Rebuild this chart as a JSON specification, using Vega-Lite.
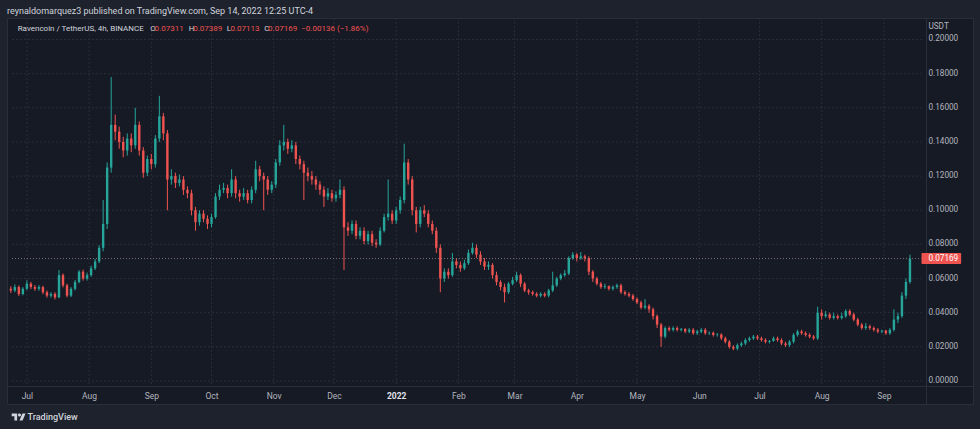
{
"$schema": "https://vega.github.io/schema/vega-lite/v6.json",
"autosize": {"type": "none"},
"width": 966, "height": 386,
"padding": {"left": 7, "top": 18, "right": 7, "bottom": 25},
"background": "#1e222d",
"config": {"view": {"fill": "#161a25", "stroke": "#2a2e39", "strokeWidth": 1}, "font": "Roboto", "axis": {"labelOverlap": false}},
"title": {"text": "reynaldomarquez3 published on TradingView.com, Sep 14, 2022 12:25 UTC-4", "anchor": "start", "frame": "group", "font": "Roboto", "fontSize": 9, "fontWeight": "normal", "color": "#d1d4dc", "offset": 3, "dy": 6, "baseline": "middle"},
"datasets": {
"months": [{"m":"2021-07-01T00:00"},{"m":"2021-08-01T00:00"},{"m":"2021-09-01T00:00"},{"m":"2021-10-01T00:00"},{"m":"2021-11-01T00:00"},{"m":"2021-12-01T00:00"},{"m":"2022-01-01T00:00"},{"m":"2022-02-01T00:00"},{"m":"2022-03-01T00:00"},{"m":"2022-04-01T00:00"},{"m":"2022-05-01T00:00"},{"m":"2022-06-01T00:00"},{"m":"2022-07-01T00:00"},{"m":"2022-08-01T00:00"},{"m":"2022-09-01T00:00"}],
"levels": [{"v":0},{"v":0.02},{"v":0.04},{"v":0.06},{"v":0.08},{"v":0.1},{"v":0.12},{"v":0.14},{"v":0.16},{"v":0.18},{"v":0.2}],
"candles": [
{"d":"2021-06-23T00:00","o":0.054,"h":0.0555,"l":0.0515,"c":0.053},
{"d":"2021-06-25T00:00","o":0.053,"h":0.0565,"l":0.052,"c":0.055},
{"d":"2021-06-27T00:00","o":0.055,"h":0.056,"l":0.0498,"c":0.051},
{"d":"2021-06-29T00:00","o":0.051,"h":0.055,"l":0.0502,"c":0.054},
{"d":"2021-07-01T00:00","o":0.054,"h":0.059,"l":0.0532,"c":0.057},
{"d":"2021-07-03T00:00","o":0.057,"h":0.058,"l":0.0538,"c":0.055},
{"d":"2021-07-05T00:00","o":0.055,"h":0.0562,"l":0.0528,"c":0.054},
{"d":"2021-07-07T00:00","o":0.054,"h":0.0562,"l":0.0528,"c":0.055},
{"d":"2021-07-09T00:00","o":0.055,"h":0.0558,"l":0.0508,"c":0.052},
{"d":"2021-07-11T00:00","o":0.052,"h":0.053,"l":0.0488,"c":0.05},
{"d":"2021-07-13T00:00","o":0.05,"h":0.052,"l":0.0488,"c":0.051},
{"d":"2021-07-15T00:00","o":0.051,"h":0.052,"l":0.0478,"c":0.049},
{"d":"2021-07-17T00:00","o":0.049,"h":0.065,"l":0.0485,"c":0.062},
{"d":"2021-07-19T00:00","o":0.062,"h":0.063,"l":0.0548,"c":0.056},
{"d":"2021-07-21T00:00","o":0.056,"h":0.057,"l":0.049,"c":0.05},
{"d":"2021-07-23T00:00","o":0.05,"h":0.055,"l":0.0492,"c":0.054},
{"d":"2021-07-25T00:00","o":0.054,"h":0.0592,"l":0.053,"c":0.058},
{"d":"2021-07-27T00:00","o":0.058,"h":0.065,"l":0.0572,"c":0.064},
{"d":"2021-07-29T00:00","o":0.064,"h":0.0652,"l":0.0588,"c":0.06},
{"d":"2021-07-31T00:00","o":0.06,"h":0.0635,"l":0.0588,"c":0.062},
{"d":"2021-08-02T00:00","o":0.062,"h":0.0675,"l":0.061,"c":0.066},
{"d":"2021-08-04T00:00","o":0.066,"h":0.0715,"l":0.065,"c":0.07},
{"d":"2021-08-06T00:00","o":0.07,"h":0.0795,"l":0.069,"c":0.078},
{"d":"2021-08-08T00:00","o":0.078,"h":0.106,"l":0.076,"c":0.092},
{"d":"2021-08-10T00:00","o":0.092,"h":0.128,"l":0.089,"c":0.125},
{"d":"2021-08-12T00:00","o":0.125,"h":0.178,"l":0.122,"c":0.15},
{"d":"2021-08-14T00:00","o":0.15,"h":0.156,"l":0.141,"c":0.146},
{"d":"2021-08-16T00:00","o":0.146,"h":0.149,"l":0.136,"c":0.14},
{"d":"2021-08-18T00:00","o":0.14,"h":0.143,"l":0.131,"c":0.135},
{"d":"2021-08-20T00:00","o":0.135,"h":0.145,"l":0.132,"c":0.142},
{"d":"2021-08-22T00:00","o":0.142,"h":0.145,"l":0.134,"c":0.138},
{"d":"2021-08-24T00:00","o":0.138,"h":0.16,"l":0.136,"c":0.15},
{"d":"2021-08-26T00:00","o":0.15,"h":0.152,"l":0.132,"c":0.135},
{"d":"2021-08-28T00:00","o":0.135,"h":0.137,"l":0.119,"c":0.122},
{"d":"2021-08-30T00:00","o":0.122,"h":0.132,"l":0.12,"c":0.13},
{"d":"2021-09-01T00:00","o":0.13,"h":0.133,"l":0.124,"c":0.127},
{"d":"2021-09-03T00:00","o":0.127,"h":0.144,"l":0.125,"c":0.142},
{"d":"2021-09-05T00:00","o":0.142,"h":0.167,"l":0.14,"c":0.155},
{"d":"2021-09-07T00:00","o":0.155,"h":0.157,"l":0.141,"c":0.145},
{"d":"2021-09-09T00:00","o":0.145,"h":0.147,"l":0.1,"c":0.118},
{"d":"2021-09-11T00:00","o":0.118,"h":0.124,"l":0.115,"c":0.12},
{"d":"2021-09-13T00:00","o":0.12,"h":0.122,"l":0.113,"c":0.116},
{"d":"2021-09-15T00:00","o":0.116,"h":0.121,"l":0.114,"c":0.118},
{"d":"2021-09-17T00:00","o":0.118,"h":0.12,"l":0.109,"c":0.112},
{"d":"2021-09-19T00:00","o":0.112,"h":0.114,"l":0.107,"c":0.11},
{"d":"2021-09-21T00:00","o":0.11,"h":0.112,"l":0.097,"c":0.1},
{"d":"2021-09-23T00:00","o":0.1,"h":0.102,"l":0.088,"c":0.093},
{"d":"2021-09-25T00:00","o":0.093,"h":0.1,"l":0.091,"c":0.098},
{"d":"2021-09-27T00:00","o":0.098,"h":0.1,"l":0.093,"c":0.095},
{"d":"2021-09-29T00:00","o":0.095,"h":0.097,"l":0.089,"c":0.092},
{"d":"2021-10-01T00:00","o":0.092,"h":0.098,"l":0.09,"c":0.096},
{"d":"2021-10-03T00:00","o":0.096,"h":0.11,"l":0.095,"c":0.108},
{"d":"2021-10-05T00:00","o":0.108,"h":0.115,"l":0.106,"c":0.112},
{"d":"2021-10-07T00:00","o":0.112,"h":0.116,"l":0.11,"c":0.113},
{"d":"2021-10-09T00:00","o":0.113,"h":0.115,"l":0.107,"c":0.11},
{"d":"2021-10-11T00:00","o":0.11,"h":0.124,"l":0.108,"c":0.118},
{"d":"2021-10-13T00:00","o":0.118,"h":0.12,"l":0.107,"c":0.11},
{"d":"2021-10-15T00:00","o":0.11,"h":0.112,"l":0.105,"c":0.108},
{"d":"2021-10-17T00:00","o":0.108,"h":0.113,"l":0.106,"c":0.11},
{"d":"2021-10-19T00:00","o":0.11,"h":0.112,"l":0.104,"c":0.106},
{"d":"2021-10-21T00:00","o":0.106,"h":0.114,"l":0.104,"c":0.112},
{"d":"2021-10-23T00:00","o":0.112,"h":0.129,"l":0.11,"c":0.124},
{"d":"2021-10-25T00:00","o":0.124,"h":0.126,"l":0.117,"c":0.12},
{"d":"2021-10-27T00:00","o":0.12,"h":0.122,"l":0.1,"c":0.118},
{"d":"2021-10-29T00:00","o":0.118,"h":0.12,"l":0.109,"c":0.112},
{"d":"2021-10-31T00:00","o":0.112,"h":0.117,"l":0.11,"c":0.115},
{"d":"2021-11-02T00:00","o":0.115,"h":0.13,"l":0.113,"c":0.128},
{"d":"2021-11-04T00:00","o":0.128,"h":0.141,"l":0.126,"c":0.138},
{"d":"2021-11-06T00:00","o":0.138,"h":0.15,"l":0.135,"c":0.14},
{"d":"2021-11-08T00:00","o":0.14,"h":0.142,"l":0.133,"c":0.136},
{"d":"2021-11-10T00:00","o":0.136,"h":0.141,"l":0.134,"c":0.138},
{"d":"2021-11-12T00:00","o":0.138,"h":0.14,"l":0.127,"c":0.13},
{"d":"2021-11-14T00:00","o":0.13,"h":0.132,"l":0.124,"c":0.127},
{"d":"2021-11-16T00:00","o":0.127,"h":0.129,"l":0.106,"c":0.122},
{"d":"2021-11-18T00:00","o":0.122,"h":0.125,"l":0.117,"c":0.12},
{"d":"2021-11-20T00:00","o":0.12,"h":0.123,"l":0.115,"c":0.118},
{"d":"2021-11-22T00:00","o":0.118,"h":0.12,"l":0.112,"c":0.115},
{"d":"2021-11-24T00:00","o":0.115,"h":0.117,"l":0.109,"c":0.112},
{"d":"2021-11-26T00:00","o":0.112,"h":0.114,"l":0.102,"c":0.108},
{"d":"2021-11-28T00:00","o":0.108,"h":0.113,"l":0.106,"c":0.11},
{"d":"2021-11-30T00:00","o":0.11,"h":0.112,"l":0.105,"c":0.107},
{"d":"2021-12-02T00:00","o":0.107,"h":0.111,"l":0.105,"c":0.109},
{"d":"2021-12-04T00:00","o":0.109,"h":0.118,"l":0.107,"c":0.112},
{"d":"2021-12-06T00:00","o":0.112,"h":0.114,"l":0.065,"c":0.09},
{"d":"2021-12-08T00:00","o":0.09,"h":0.093,"l":0.085,"c":0.088},
{"d":"2021-12-10T00:00","o":0.088,"h":0.094,"l":0.086,"c":0.092},
{"d":"2021-12-12T00:00","o":0.092,"h":0.094,"l":0.083,"c":0.085},
{"d":"2021-12-14T00:00","o":0.085,"h":0.09,"l":0.083,"c":0.088},
{"d":"2021-12-16T00:00","o":0.088,"h":0.09,"l":0.08,"c":0.082},
{"d":"2021-12-18T00:00","o":0.082,"h":0.088,"l":0.08,"c":0.086},
{"d":"2021-12-20T00:00","o":0.086,"h":0.088,"l":0.079,"c":0.081},
{"d":"2021-12-22T00:00","o":0.081,"h":0.083,"l":0.078,"c":0.08},
{"d":"2021-12-24T00:00","o":0.08,"h":0.09,"l":0.079,"c":0.088},
{"d":"2021-12-26T00:00","o":0.088,"h":0.098,"l":0.087,"c":0.096},
{"d":"2021-12-28T00:00","o":0.096,"h":0.118,"l":0.094,"c":0.098},
{"d":"2021-12-30T00:00","o":0.098,"h":0.1,"l":0.092,"c":0.094},
{"d":"2022-01-01T00:00","o":0.094,"h":0.102,"l":0.092,"c":0.1},
{"d":"2022-01-03T00:00","o":0.1,"h":0.108,"l":0.098,"c":0.106},
{"d":"2022-01-05T00:00","o":0.106,"h":0.139,"l":0.104,"c":0.128},
{"d":"2022-01-07T00:00","o":0.128,"h":0.13,"l":0.115,"c":0.118},
{"d":"2022-01-09T00:00","o":0.118,"h":0.12,"l":0.097,"c":0.1},
{"d":"2022-01-11T00:00","o":0.1,"h":0.102,"l":0.087,"c":0.092},
{"d":"2022-01-13T00:00","o":0.092,"h":0.102,"l":0.09,"c":0.1},
{"d":"2022-01-15T00:00","o":0.1,"h":0.103,"l":0.096,"c":0.098},
{"d":"2022-01-17T00:00","o":0.098,"h":0.1,"l":0.09,"c":0.092},
{"d":"2022-01-19T00:00","o":0.092,"h":0.094,"l":0.086,"c":0.088},
{"d":"2022-01-21T00:00","o":0.088,"h":0.09,"l":0.075,"c":0.078},
{"d":"2022-01-23T00:00","o":0.078,"h":0.08,"l":0.052,"c":0.06},
{"d":"2022-01-25T00:00","o":0.06,"h":0.066,"l":0.058,"c":0.064},
{"d":"2022-01-27T00:00","o":0.064,"h":0.066,"l":0.06,"c":0.062},
{"d":"2022-01-29T00:00","o":0.062,"h":0.075,"l":0.061,"c":0.07},
{"d":"2022-01-31T00:00","o":0.07,"h":0.072,"l":0.066,"c":0.068},
{"d":"2022-02-02T00:00","o":0.068,"h":0.07,"l":0.064,"c":0.066},
{"d":"2022-02-04T00:00","o":0.066,"h":0.071,"l":0.065,"c":0.069},
{"d":"2022-02-06T00:00","o":0.069,"h":0.077,"l":0.068,"c":0.075},
{"d":"2022-02-08T00:00","o":0.075,"h":0.081,"l":0.074,"c":0.078},
{"d":"2022-02-10T00:00","o":0.078,"h":0.08,"l":0.072,"c":0.074},
{"d":"2022-02-12T00:00","o":0.074,"h":0.076,"l":0.068,"c":0.07},
{"d":"2022-02-14T00:00","o":0.07,"h":0.072,"l":0.065,"c":0.067},
{"d":"2022-02-16T00:00","o":0.067,"h":0.07,"l":0.065,"c":0.068},
{"d":"2022-02-18T00:00","o":0.068,"h":0.069,"l":0.06,"c":0.062},
{"d":"2022-02-20T00:00","o":0.062,"h":0.064,"l":0.056,"c":0.058},
{"d":"2022-02-22T00:00","o":0.058,"h":0.059,"l":0.053,"c":0.055},
{"d":"2022-02-24T00:00","o":0.055,"h":0.057,"l":0.046,"c":0.052},
{"d":"2022-02-26T00:00","o":0.052,"h":0.058,"l":0.051,"c":0.057},
{"d":"2022-02-28T00:00","o":0.057,"h":0.061,"l":0.056,"c":0.059},
{"d":"2022-03-02T00:00","o":0.059,"h":0.064,"l":0.058,"c":0.062},
{"d":"2022-03-04T00:00","o":0.062,"h":0.063,"l":0.055,"c":0.057},
{"d":"2022-03-06T00:00","o":0.057,"h":0.058,"l":0.052,"c":0.053},
{"d":"2022-03-08T00:00","o":0.053,"h":0.054,"l":0.0505,"c":0.052},
{"d":"2022-03-10T00:00","o":0.052,"h":0.053,"l":0.05,"c":0.051},
{"d":"2022-03-12T00:00","o":0.051,"h":0.052,"l":0.049,"c":0.05},
{"d":"2022-03-14T00:00","o":0.05,"h":0.052,"l":0.049,"c":0.051},
{"d":"2022-03-16T00:00","o":0.051,"h":0.052,"l":0.049,"c":0.05},
{"d":"2022-03-18T00:00","o":0.05,"h":0.054,"l":0.049,"c":0.053},
{"d":"2022-03-20T00:00","o":0.053,"h":0.064,"l":0.052,"c":0.056},
{"d":"2022-03-22T00:00","o":0.056,"h":0.061,"l":0.055,"c":0.06},
{"d":"2022-03-24T00:00","o":0.06,"h":0.063,"l":0.059,"c":0.062},
{"d":"2022-03-26T00:00","o":0.062,"h":0.065,"l":0.061,"c":0.063},
{"d":"2022-03-28T00:00","o":0.063,"h":0.073,"l":0.062,"c":0.072},
{"d":"2022-03-30T00:00","o":0.072,"h":0.0755,"l":0.071,"c":0.074},
{"d":"2022-04-01T00:00","o":0.074,"h":0.075,"l":0.07,"c":0.072},
{"d":"2022-04-03T00:00","o":0.072,"h":0.0755,"l":0.071,"c":0.073},
{"d":"2022-04-05T00:00","o":0.073,"h":0.074,"l":0.07,"c":0.072},
{"d":"2022-04-07T00:00","o":0.072,"h":0.073,"l":0.062,"c":0.064},
{"d":"2022-04-09T00:00","o":0.064,"h":0.065,"l":0.058,"c":0.06},
{"d":"2022-04-11T00:00","o":0.06,"h":0.061,"l":0.056,"c":0.057},
{"d":"2022-04-13T00:00","o":0.057,"h":0.058,"l":0.054,"c":0.055},
{"d":"2022-04-15T00:00","o":0.055,"h":0.057,"l":0.054,"c":0.0555},
{"d":"2022-04-17T00:00","o":0.0555,"h":0.056,"l":0.053,"c":0.054},
{"d":"2022-04-19T00:00","o":0.054,"h":0.056,"l":0.053,"c":0.055},
{"d":"2022-04-21T00:00","o":0.055,"h":0.057,"l":0.054,"c":0.056},
{"d":"2022-04-23T00:00","o":0.056,"h":0.057,"l":0.051,"c":0.052},
{"d":"2022-04-25T00:00","o":0.052,"h":0.053,"l":0.05,"c":0.051},
{"d":"2022-04-27T00:00","o":0.051,"h":0.052,"l":0.049,"c":0.05},
{"d":"2022-04-29T00:00","o":0.05,"h":0.051,"l":0.047,"c":0.048},
{"d":"2022-05-01T00:00","o":0.048,"h":0.049,"l":0.045,"c":0.046},
{"d":"2022-05-03T00:00","o":0.046,"h":0.047,"l":0.042,"c":0.043},
{"d":"2022-05-05T00:00","o":0.043,"h":0.048,"l":0.042,"c":0.044},
{"d":"2022-05-07T00:00","o":0.044,"h":0.045,"l":0.04,"c":0.042},
{"d":"2022-05-09T00:00","o":0.042,"h":0.043,"l":0.036,"c":0.038},
{"d":"2022-05-11T00:00","o":0.038,"h":0.039,"l":0.031,"c":0.033},
{"d":"2022-05-13T00:00","o":0.033,"h":0.034,"l":0.02,"c":0.026},
{"d":"2022-05-15T00:00","o":0.026,"h":0.032,"l":0.025,"c":0.031},
{"d":"2022-05-17T00:00","o":0.031,"h":0.032,"l":0.029,"c":0.03},
{"d":"2022-05-19T00:00","o":0.03,"h":0.032,"l":0.029,"c":0.031},
{"d":"2022-05-21T00:00","o":0.031,"h":0.032,"l":0.029,"c":0.03},
{"d":"2022-05-23T00:00","o":0.03,"h":0.031,"l":0.029,"c":0.0305},
{"d":"2022-05-25T00:00","o":0.0305,"h":0.031,"l":0.028,"c":0.029},
{"d":"2022-05-27T00:00","o":0.029,"h":0.031,"l":0.028,"c":0.03},
{"d":"2022-05-29T00:00","o":0.03,"h":0.031,"l":0.027,"c":0.028},
{"d":"2022-05-31T00:00","o":0.028,"h":0.03,"l":0.027,"c":0.029},
{"d":"2022-06-02T00:00","o":0.029,"h":0.031,"l":0.028,"c":0.03},
{"d":"2022-06-04T00:00","o":0.03,"h":0.031,"l":0.027,"c":0.028},
{"d":"2022-06-06T00:00","o":0.028,"h":0.029,"l":0.027,"c":0.0282},
{"d":"2022-06-08T00:00","o":0.0282,"h":0.029,"l":0.026,"c":0.027},
{"d":"2022-06-10T00:00","o":0.027,"h":0.028,"l":0.026,"c":0.0272},
{"d":"2022-06-12T00:00","o":0.0272,"h":0.028,"l":0.024,"c":0.025},
{"d":"2022-06-14T00:00","o":0.025,"h":0.026,"l":0.022,"c":0.023},
{"d":"2022-06-16T00:00","o":0.023,"h":0.024,"l":0.019,"c":0.02},
{"d":"2022-06-18T00:00","o":0.02,"h":0.021,"l":0.018,"c":0.019},
{"d":"2022-06-20T00:00","o":0.019,"h":0.022,"l":0.018,"c":0.021},
{"d":"2022-06-22T00:00","o":0.021,"h":0.023,"l":0.02,"c":0.022},
{"d":"2022-06-24T00:00","o":0.022,"h":0.025,"l":0.021,"c":0.024},
{"d":"2022-06-26T00:00","o":0.024,"h":0.026,"l":0.023,"c":0.025},
{"d":"2022-06-28T00:00","o":0.025,"h":0.027,"l":0.024,"c":0.026},
{"d":"2022-06-30T00:00","o":0.026,"h":0.027,"l":0.024,"c":0.025},
{"d":"2022-07-02T00:00","o":0.025,"h":0.026,"l":0.023,"c":0.024},
{"d":"2022-07-04T00:00","o":0.024,"h":0.025,"l":0.022,"c":0.023},
{"d":"2022-07-06T00:00","o":0.023,"h":0.024,"l":0.022,"c":0.0235},
{"d":"2022-07-08T00:00","o":0.0235,"h":0.026,"l":0.023,"c":0.025},
{"d":"2022-07-10T00:00","o":0.025,"h":0.026,"l":0.023,"c":0.024},
{"d":"2022-07-12T00:00","o":0.024,"h":0.025,"l":0.021,"c":0.022},
{"d":"2022-07-14T00:00","o":0.022,"h":0.023,"l":0.02,"c":0.021},
{"d":"2022-07-16T00:00","o":0.021,"h":0.024,"l":0.02,"c":0.023},
{"d":"2022-07-18T00:00","o":0.023,"h":0.028,"l":0.022,"c":0.027},
{"d":"2022-07-20T00:00","o":0.027,"h":0.03,"l":0.026,"c":0.029},
{"d":"2022-07-22T00:00","o":0.029,"h":0.03,"l":0.027,"c":0.028},
{"d":"2022-07-24T00:00","o":0.028,"h":0.029,"l":0.026,"c":0.027},
{"d":"2022-07-26T00:00","o":0.027,"h":0.028,"l":0.025,"c":0.026},
{"d":"2022-07-28T00:00","o":0.026,"h":0.027,"l":0.024,"c":0.025},
{"d":"2022-07-30T00:00","o":0.025,"h":0.0435,"l":0.024,"c":0.04},
{"d":"2022-08-01T00:00","o":0.04,"h":0.042,"l":0.036,"c":0.038},
{"d":"2022-08-03T00:00","o":0.038,"h":0.041,"l":0.037,"c":0.039},
{"d":"2022-08-05T00:00","o":0.039,"h":0.04,"l":0.036,"c":0.037},
{"d":"2022-08-07T00:00","o":0.037,"h":0.04,"l":0.036,"c":0.038},
{"d":"2022-08-09T00:00","o":0.038,"h":0.039,"l":0.036,"c":0.037},
{"d":"2022-08-11T00:00","o":0.037,"h":0.04,"l":0.036,"c":0.038},
{"d":"2022-08-13T00:00","o":0.038,"h":0.042,"l":0.037,"c":0.041},
{"d":"2022-08-15T00:00","o":0.041,"h":0.042,"l":0.038,"c":0.039},
{"d":"2022-08-17T00:00","o":0.039,"h":0.04,"l":0.035,"c":0.036},
{"d":"2022-08-19T00:00","o":0.036,"h":0.037,"l":0.032,"c":0.033},
{"d":"2022-08-21T00:00","o":0.033,"h":0.034,"l":0.03,"c":0.031},
{"d":"2022-08-23T00:00","o":0.031,"h":0.034,"l":0.03,"c":0.032},
{"d":"2022-08-25T00:00","o":0.032,"h":0.033,"l":0.03,"c":0.031},
{"d":"2022-08-27T00:00","o":0.031,"h":0.032,"l":0.029,"c":0.03},
{"d":"2022-08-29T00:00","o":0.03,"h":0.031,"l":0.028,"c":0.029},
{"d":"2022-08-31T00:00","o":0.029,"h":0.03,"l":0.028,"c":0.0295},
{"d":"2022-09-02T00:00","o":0.0295,"h":0.03,"l":0.027,"c":0.028},
{"d":"2022-09-04T00:00","o":0.028,"h":0.031,"l":0.027,"c":0.03},
{"d":"2022-09-06T00:00","o":0.03,"h":0.042,"l":0.029,"c":0.036},
{"d":"2022-09-08T00:00","o":0.036,"h":0.04,"l":0.034,"c":0.038},
{"d":"2022-09-10T00:00","o":0.038,"h":0.052,"l":0.037,"c":0.05},
{"d":"2022-09-12T00:00","o":0.05,"h":0.06,"l":0.048,"c":0.058},
{"d":"2022-09-14T00:00","o":0.058,"h":0.074,"l":0.057,"c":0.0717}
]
},
"layer": [
{
"data": {"name": "levels"},
"mark": {"type": "rule", "color": "#2a2e39", "strokeDash": [2, 2], "strokeWidth": 1},
"encoding": {
"y": {"field": "v", "type": "quantitative", "scale": {"domain": [-0.01347, 0.21259], "nice": false, "zero": false},
"axis": {"orient": "right", "offset": -47, "values": [0, 0.1], "labels": false, "grid": false, "ticks": false, "domainColor": "#2a2e39", "title": null}},
"x": {"datum": {"year": 2021, "month": 6, "date": 23, "hours": 14}, "type": "temporal",
"scale": {"domain": [{"year": 2021, "month": 6, "date": 23, "hours": 14}, {"year": 2022, "month": 10, "date": 12, "hours": 22}], "nice": false},
"axis": {"orient": "bottom", "offset": -18, "values": [{"year": 2021, "month": 7, "date": 1}, {"year": 2021, "month": 8, "date": 1}, {"year": 2021, "month": 9, "date": 1}, {"year": 2021, "month": 10, "date": 1}, {"year": 2021, "month": 11, "date": 1}, {"year": 2021, "month": 12, "date": 1}, {"year": 2022, "month": 1, "date": 1}, {"year": 2022, "month": 2, "date": 1}, {"year": 2022, "month": 3, "date": 1}, {"year": 2022, "month": 4, "date": 1}, {"year": 2022, "month": 5, "date": 1}, {"year": 2022, "month": 6, "date": 1}, {"year": 2022, "month": 7, "date": 1}, {"year": 2022, "month": 8, "date": 1}, {"year": 2022, "month": 9, "date": 1}],
"labelExpr": "month(datum.value) == 0 ? timeFormat(datum.value, '%Y') : timeFormat(datum.value, '%b')",
"grid": false, "ticks": false, "labelPadding": 5, "labelFontSize": 8.5, "labelFont": "Roboto", "labelFlush": false, "labelOverlap": false,
"labelColor": {"condition": {"test": "month(datum.value) == 0", "value": "#e0e3eb"}, "value": "#b2b5be"},
"labelFontWeight": {"condition": {"test": "month(datum.value) == 0", "value": "bold"}, "value": "normal"},
"domainColor": "#2a2e39", "title": null}},
"x2": {"datum": {"year": 2022, "month": 9, "date": 19, "hours": 18}}
}
},
{
"data": {"name": "levels"},
"mark": {"type": "text", "color": "#b2b5be", "fontSize": 8.2, "font": "Roboto", "align": "left", "baseline": "middle"},
"encoding": {
"y": {"field": "v", "type": "quantitative"},
"x": {"datum": {"year": 2022, "month": 9, "date": 23, "hours": 5}, "type": "temporal"},
"text": {"field": "v", "type": "quantitative", "format": ".5f"}
}
},
{
"data": {"name": "months"},
"mark": {"type": "rule", "color": "#2a2e39", "strokeDash": [2, 2], "strokeWidth": 1},
"encoding": {
"x": {"field": "m", "type": "temporal"},
"y": {"datum": 0.2126, "type": "quantitative"},
"y2": {"datum": -0.0029}
}
},
{
"data": {"name": "candles"},
"mark": {"type": "rule", "strokeWidth": 1},
"encoding": {
"x": {"field": "d", "type": "temporal"},
"y": {"field": "l", "type": "quantitative"},
"y2": {"field": "h"},
"color": {"condition": {"test": "datum.c >= datum.o", "value": "#26a69a"}, "value": "#ef5350"}
}
},
{
"data": {"name": "candles"},
"mark": {"type": "bar", "size": 2.4},
"encoding": {
"x": {"field": "d", "type": "temporal"},
"y": {"field": "o", "type": "quantitative"},
"y2": {"field": "c"},
"color": {"condition": {"test": "datum.c >= datum.o", "value": "#26a69a"}, "value": "#ef5350"}
}
},
{
"data": {"values": [{}]},
"mark": {"type": "rule", "color": "#a3868c", "opacity": 0.8, "strokeDash": [1, 2], "strokeWidth": 1},
"encoding": {
"y": {"datum": 0.07169, "type": "quantitative"},
"x": {"datum": {"year": 2021, "month": 6, "date": 23, "hours": 14}, "type": "temporal"},
"x2": {"datum": {"year": 2022, "month": 9, "date": 19, "hours": 18}}
}
},
{
"data": {"values": [{}]},
"mark": {"type": "rect", "color": "#ef5350", "cornerRadius": 1},
"encoding": {
"y": {"datum": 0.07491, "type": "quantitative"},
"y2": {"datum": 0.06847},
"x": {"datum": {"year": 2022, "month": 9, "date": 19, "hours": 18}, "type": "temporal"},
"x2": {"datum": {"year": 2022, "month": 10, "date": 9, "hours": 12}}
}
},
{
"data": {"values": [{}]},
"mark": {"type": "text", "text": "0.07169", "color": "#ffffff", "fontSize": 8.2, "font": "Roboto", "align": "left", "baseline": "middle"},
"encoding": {
"y": {"datum": 0.07169, "type": "quantitative"},
"x": {"datum": {"year": 2022, "month": 9, "date": 23, "hours": 5}, "type": "temporal"}
}
},
{
"data": {"values": [{}]},
"mark": {"type": "text", "text": "USDT", "color": "#b2b5be", "fontSize": 8.2, "font": "Roboto", "align": "left", "baseline": "middle"},
"encoding": {
"y": {"datum": 0.20749, "type": "quantitative"},
"x": {"datum": {"year": 2022, "month": 9, "date": 23, "hours": 5}, "type": "temporal"}
}
},
{
"data": {"values": [{}]},
"mark": {"type": "text", "text": "Ravencoin / TetherUS, 4h, BINANCE", "color": "#d1d4dc", "fontSize": 8, "font": "Roboto", "align": "left", "baseline": "middle"},
"encoding": {"y": {"datum": 0.20615, "type": "quantitative"}, "x": {"datum": {"year": 2021, "month": 6, "date": 26, "hours": 10}, "type": "temporal"}}
},
{
"data": {"values": [{}]},
"mark": {"type": "text", "text": "O", "color": "#d1d4dc", "fontSize": 8, "font": "Roboto", "align": "left", "baseline": "middle"},
"encoding": {"y": {"datum": 0.20615, "type": "quantitative"}, "x": {"datum": {"year": 2021, "month": 8, "date": 31, "hours": 12}, "type": "temporal"}}
},
{
"data": {"values": [{}]},
"mark": {"type": "text", "text": "0.07311", "color": "#ef5350", "fontSize": 8, "font": "Roboto", "align": "left", "baseline": "middle"},
"encoding": {"y": {"datum": 0.20615, "type": "quantitative"}, "x": {"datum": {"year": 2021, "month": 9, "date": 2, "hours": 15}, "type": "temporal"}}
},
{
"data": {"values": [{}]},
"mark": {"type": "text", "text": "H", "color": "#d1d4dc", "fontSize": 8, "font": "Roboto", "align": "left", "baseline": "middle"},
"encoding": {"y": {"datum": 0.20615, "type": "quantitative"}, "x": {"datum": {"year": 2021, "month": 9, "date": 19, "hours": 17}, "type": "temporal"}}
},
{
"data": {"values": [{}]},
"mark": {"type": "text", "text": "0.07389", "color": "#ef5350", "fontSize": 8, "font": "Roboto", "align": "left", "baseline": "middle"},
"encoding": {"y": {"datum": 0.20615, "type": "quantitative"}, "x": {"datum": {"year": 2021, "month": 9, "date": 21, "hours": 20}, "type": "temporal"}}
},
{
"data": {"values": [{}]},
"mark": {"type": "text", "text": "L", "color": "#d1d4dc", "fontSize": 8, "font": "Roboto", "align": "left", "baseline": "middle"},
"encoding": {"y": {"datum": 0.20615, "type": "quantitative"}, "x": {"datum": {"year": 2021, "month": 10, "date": 8, "hours": 14}, "type": "temporal"}}
},
{
"data": {"values": [{}]},
"mark": {"type": "text", "text": "0.07113", "color": "#ef5350", "fontSize": 8, "font": "Roboto", "align": "left", "baseline": "middle"},
"encoding": {"y": {"datum": 0.20615, "type": "quantitative"}, "x": {"datum": {"year": 2021, "month": 10, "date": 10, "hours": 10}, "type": "temporal"}}
},
{
"data": {"values": [{}]},
"mark": {"type": "text", "text": "C", "color": "#d1d4dc", "fontSize": 8, "font": "Roboto", "align": "left", "baseline": "middle"},
"encoding": {"y": {"datum": 0.20615, "type": "quantitative"}, "x": {"datum": {"year": 2021, "month": 10, "date": 27, "hours": 5}, "type": "temporal"}}
},
{
"data": {"values": [{}]},
"mark": {"type": "text", "text": "0.07169", "color": "#ef5350", "fontSize": 8, "font": "Roboto", "align": "left", "baseline": "middle"},
"encoding": {"y": {"datum": 0.20615, "type": "quantitative"}, "x": {"datum": {"year": 2021, "month": 10, "date": 29, "hours": 4}, "type": "temporal"}}
},
{
"data": {"values": [{}]},
"mark": {"type": "text", "text": "−0.00136 (−1.86%)", "color": "#ef5350", "fontSize": 8, "font": "Roboto", "align": "left", "baseline": "middle"},
"encoding": {"y": {"datum": 0.20615, "type": "quantitative"}, "x": {"datum": {"year": 2021, "month": 11, "date": 14, "hours": 17}, "type": "temporal"}}
},
{
"data": {"values": [{}]},
"mark": {"type": "point", "filled": true, "color": "#d1d4dc", "opacity": 1, "size": 196, "strokeWidth": 0,
"shape": "M-0.222,0.5L-0.611,0.5L-0.611,-0.111L-1,-0.111L-1,-0.5L-0.222,-0.5Z M0.556,0.5L0.111,0.5L0.528,-0.5L0.972,-0.5Z M-0.111,-0.278A0.222,0.222 0 1,0 0.333,-0.278A0.222,0.222 0 1,0 -0.111,-0.278Z"},
"encoding": {"y": {"datum": -0.02108, "type": "quantitative"}, "x": {"datum": {"year": 2021, "month": 6, "date": 26, "hours": 22}, "type": "temporal"}}
},
{
"data": {"values": [{}]},
"mark": {"type": "text", "text": "TradingView", "color": "#d1d4dc", "fontSize": 9, "fontWeight": 500, "font": "Roboto", "align": "left", "baseline": "middle"},
"encoding": {"y": {"datum": -0.02108, "type": "quantitative"}, "x": {"datum": {"year": 2021, "month": 7, "date": 1, "hours": 8}, "type": "temporal"}}
}
]
}
